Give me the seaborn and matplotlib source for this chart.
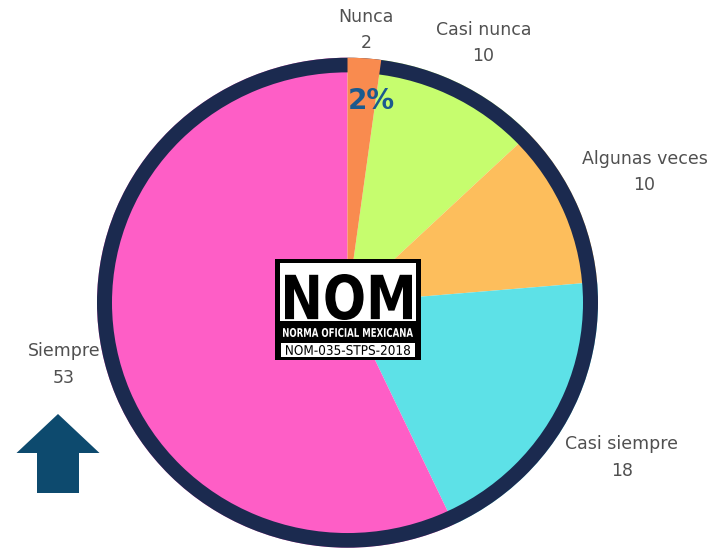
import numpy as np
import seaborn as sns
import matplotlib.pyplot as plt
from matplotlib.patches import Wedge, Rectangle, FancyArrow, PathPatch
from matplotlib.textpath import TextPath
from matplotlib.font_manager import FontProperties
from matplotlib.transforms import Affine2D

categories = ['Nunca', 'Casi nunca', 'Algunas veces', 'Casi siempre', 'Siempre']
counts = [2, 10, 10, 18, 53]
colors = ['#F98B4F', '#C6FD6E', '#FDBE5C', '#5DE1E7', '#FE5EC6']
label_dist = [1.115, 1.19, 1.30, 1.265, 1.16]

sns.set_theme(style='white')
plt.rcParams['font.family'] = ['DejaVu Sans']

W, H = 710, 549
fig = plt.figure(figsize=(W / 100, H / 100), dpi=100)
ax = fig.add_axes([0, 0, 1, 1])

# pie is slightly squashed vertically in the reference
cx, cy = 347.5, 302.7      # image px (y from top)
rx, ry = 250.5, 245.0
ring_w = 15 / rx
navy = '#1B2A4F'

wedges, _ = ax.pie(counts, colors=colors, startangle=90, counterclock=False,
                   radius=1, frame=True, wedgeprops=dict(linewidth=0))
ax.set_aspect('auto')
ax.set_xlim(-cx / rx, (W - cx) / rx)
ax.set_ylim(-(H - cy) / ry, cy / ry)
ax.axis('off')

ax.add_patch(Wedge((0, 0), 1, 0, 360, width=ring_w, facecolor=navy, edgecolor='none', zorder=2))
wedges[0].set_zorder(3)

# outside labels
for w, name, val, d in zip(wedges, categories, counts, label_dist):
    ang = np.deg2rad((w.theta1 + w.theta2) / 2)
    ax.text(d * np.cos(ang), d * np.sin(ang), f'{name}\n{val}', ha='center', va='center',
            fontsize=12.5, color='#505050', linespacing=1.6, zorder=0)

# percentage on the smallest slice
w0 = wedges[0]
ang = np.deg2rad((w0.theta1 + w0.theta2) / 2 - 2.6)
pct = counts[0] / sum(counts) * 100
ax.text(0.83 * np.cos(ang), 0.83 * np.sin(ang), f'{pct:.0f}%',
        ha='center', va='center', fontsize=20, fontweight='bold', color='#1B5A8E', zorder=4)

# overlay in pixel coordinates for logo and arrow
ax2 = fig.add_axes([0, 0, 1, 1], zorder=5)
ax2.set_xlim(0, W)
ax2.set_ylim(0, H)
ax2.axis('off')
ax2.patch.set_alpha(0)


def fit_text(s, x0, x1, y0, y1, color, weight='bold'):
    tp = TextPath((0, 0), s, size=1, prop=FontProperties(family='DejaVu Sans', weight=weight))
    bb = tp.get_extents()
    tr = Affine2D().translate(-bb.x0, -bb.y0).scale((x1 - x0) / bb.width, (y1 - y0) / bb.height).translate(x0, y0)
    ax2.add_patch(PathPatch(tr.transform_path(tp), facecolor=color, edgecolor='none', zorder=7))


# NOM logo
ax2.add_patch(Rectangle((275, H - 360), 146, 101, facecolor='black', edgecolor='none', zorder=5))
ax2.add_patch(Rectangle((280, H - 321), 136, 58, facecolor='white', edgecolor='none', zorder=6))
ax2.add_patch(Rectangle((281, H - 357), 134, 14, facecolor='white', edgecolor='none', zorder=6))
fit_text('NOM', 285, 412, H - 320, H - 274, 'black')
fit_text('NORMA OFICIAL MEXICANA', 283, 413, H - 337, H - 328, 'white')
fit_text('NOM-035-STPS-2018', 286, 410, H - 355, H - 345, 'black', weight='normal')

# arrow
ax2.add_patch(FancyArrow(58, H - 493, 0, 79, width=42, head_width=83, head_length=39,
                         length_includes_head=True, color='#0D4A6E', linewidth=0, zorder=5))

fig.savefig('out.png', dpi=100, facecolor='white')
